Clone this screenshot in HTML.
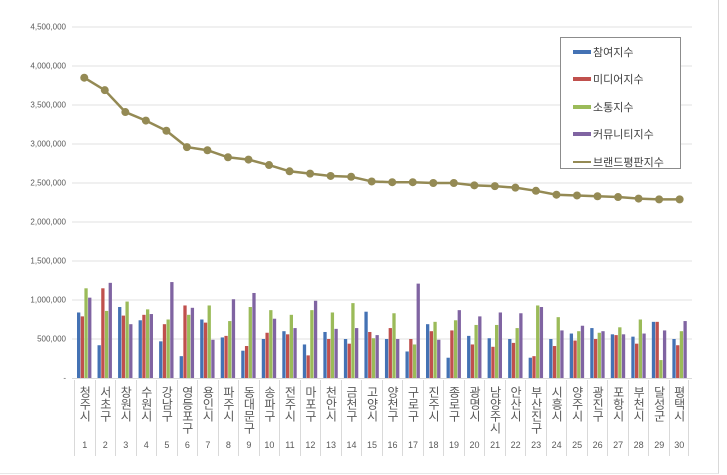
<!DOCTYPE html>
<html><head><meta charset="utf-8"><style>
body{margin:0;background:#fff;width:727px;height:475px;overflow:hidden;position:relative;font-family:"Liberation Sans","Noto Sans CJK KR",sans-serif}
#frame{position:absolute;left:0;top:0;width:718px;height:473px;border-right:1px solid #d9d9d9;border-bottom:1px solid #e8e8e8}
.yl{position:absolute;right:661px;font-size:8px;color:#595959;transform:translateY(-50%)}
#cats{position:absolute;left:74px;top:380px;display:flex}
.c{width:20.53px;height:76px;border-left:1px solid #d9d9d9;box-sizing:border-box;position:relative;color:#595959}
.c:last-child{border-right:1px solid #d9d9d9}
.n{writing-mode:vertical-rl;text-orientation:upright;font-size:12px;position:absolute;top:6px;left:50%;transform:translateX(-50%);letter-spacing:0px;line-height:1}
.k{position:absolute;top:60px;width:100%;text-align:center;font-size:9px}
#leg{position:absolute;left:560px;top:37px;width:119px;height:130px;border:1px solid #8c8c8c;background:#fff;font-size:11px;color:#404040}
.li{position:absolute;left:12px;display:flex;align-items:center}
.sw{width:18px;height:4px;margin-right:2px}
</style></head><body>
<div id="frame"></div>
<svg id="s" width="727" height="475" style="position:absolute;left:0;top:0"></svg>
<div class="yl" style="top:27px">4,500,000</div>
<div class="yl" style="top:66px">4,000,000</div>
<div class="yl" style="top:105px">3,500,000</div>
<div class="yl" style="top:144px">3,000,000</div>
<div class="yl" style="top:183px">2,500,000</div>
<div class="yl" style="top:222px">2,000,000</div>
<div class="yl" style="top:261px">1,500,000</div>
<div class="yl" style="top:300px">1,000,000</div>
<div class="yl" style="top:339px">500,000</div>
<div class="yl" style="top:378px">-</div>
<div id="cats">
<div class="c"><div class="n">청주시</div><div class="k">1</div></div>
<div class="c"><div class="n">서초구</div><div class="k">2</div></div>
<div class="c"><div class="n">창원시</div><div class="k">3</div></div>
<div class="c"><div class="n">수원시</div><div class="k">4</div></div>
<div class="c"><div class="n">강남구</div><div class="k">5</div></div>
<div class="c"><div class="n">영등포구</div><div class="k">6</div></div>
<div class="c"><div class="n">용인시</div><div class="k">7</div></div>
<div class="c"><div class="n">파주시</div><div class="k">8</div></div>
<div class="c"><div class="n">동대문구</div><div class="k">9</div></div>
<div class="c"><div class="n">송파구</div><div class="k">10</div></div>
<div class="c"><div class="n">전주시</div><div class="k">11</div></div>
<div class="c"><div class="n">마포구</div><div class="k">12</div></div>
<div class="c"><div class="n">천안시</div><div class="k">13</div></div>
<div class="c"><div class="n">금천구</div><div class="k">14</div></div>
<div class="c"><div class="n">고양시</div><div class="k">15</div></div>
<div class="c"><div class="n">양천구</div><div class="k">16</div></div>
<div class="c"><div class="n">구로구</div><div class="k">17</div></div>
<div class="c"><div class="n">진주시</div><div class="k">18</div></div>
<div class="c"><div class="n">종로구</div><div class="k">19</div></div>
<div class="c"><div class="n">광명시</div><div class="k">20</div></div>
<div class="c"><div class="n">남양주시</div><div class="k">21</div></div>
<div class="c"><div class="n">안산시</div><div class="k">22</div></div>
<div class="c"><div class="n">부산진구</div><div class="k">23</div></div>
<div class="c"><div class="n">시흥시</div><div class="k">24</div></div>
<div class="c"><div class="n">양주시</div><div class="k">25</div></div>
<div class="c"><div class="n">광진구</div><div class="k">26</div></div>
<div class="c"><div class="n">포항시</div><div class="k">27</div></div>
<div class="c"><div class="n">부천시</div><div class="k">28</div></div>
<div class="c"><div class="n">달성군</div><div class="k">29</div></div>
<div class="c"><div class="n">평택시</div><div class="k">30</div></div>
</div>
<div id="leg">
<div class="li" style="top:6px"><div class="sw" style="background:#4472b4"></div>참여지수</div>
<div class="li" style="top:33px"><div class="sw" style="background:#c0504d"></div>미디어지수</div>
<div class="li" style="top:61px"><div class="sw" style="background:#9bbb59"></div>소통지수</div>
<div class="li" style="top:88px"><div class="sw" style="background:#8064a2"></div>커뮤니티지수</div>
<div class="li" style="top:116px"><div class="sw" style="background:#948a54;height:2px;margin-top:0"></div>브랜드평판지수</div>
</div>
<script>
var d=[[840,790,1150,1030],[420,1150,860,1220],[910,800,980,690],[740,810,880,820],[470,690,750,1230],[280,930,810,900],[750,710,930,490],[520,540,730,1010],[350,410,910,1090],[500,580,870,760],[600,560,810,640],[430,290,870,990],[590,500,840,630],[500,440,960,640],[850,590,510,550],[500,640,830,500],[340,500,430,1210],[690,600,720,490],[260,610,740,870],[540,430,680,790],[510,400,680,840],[500,450,640,830],[260,280,930,910],[500,410,780,610],[570,480,600,670],[640,500,580,600],[560,550,650,560],[530,440,750,570],[720,720,230,610],[500,420,600,730]];
var b=[3850,3690,3410,3300,3170,2960,2920,2830,2800,2730,2650,2620,2590,2580,2520,2510,2510,2500,2500,2470,2460,2440,2400,2350,2340,2330,2320,2300,2290,2290];
var col=["#4472b4","#c0504d","#9bbb59","#8064a2"];
var s="",y0=378,k=0.078,x0=74,w=20.53;
for(var g=1;g<=9;g++){var y=y0-g*39;s+='<line x1="72" x2="692" y1="'+y+'" y2="'+y+'" stroke="#e0e0e0" stroke-width="1"/>';}
for(var i=0;i<30;i++){for(var j=0;j<4;j++){var h=d[i][j]*k;s+='<rect x="'+(x0+i*w+3+j*3.7)+'" y="'+(y0-h)+'" width="3.3" height="'+h+'" fill="'+col[j]+'"/>';}}
var p="";for(var i=0;i<30;i++){p+=(x0+i*w+w/2)+","+(y0-b[i]*k)+" ";}
s+='<polyline points="'+p+'" fill="none" stroke="#948a54" stroke-width="2.5"/>';
for(var i=0;i<30;i++){s+='<circle cx="'+(x0+i*w+w/2)+'" cy="'+(y0-b[i]*k)+'" r="4" fill="#948a54"/>';}
s+='<line x1="72" x2="692" y1="378.5" y2="378.5" stroke="#d9d9d9"/>';
document.getElementById("s").innerHTML=s;
</script>
</body></html>
